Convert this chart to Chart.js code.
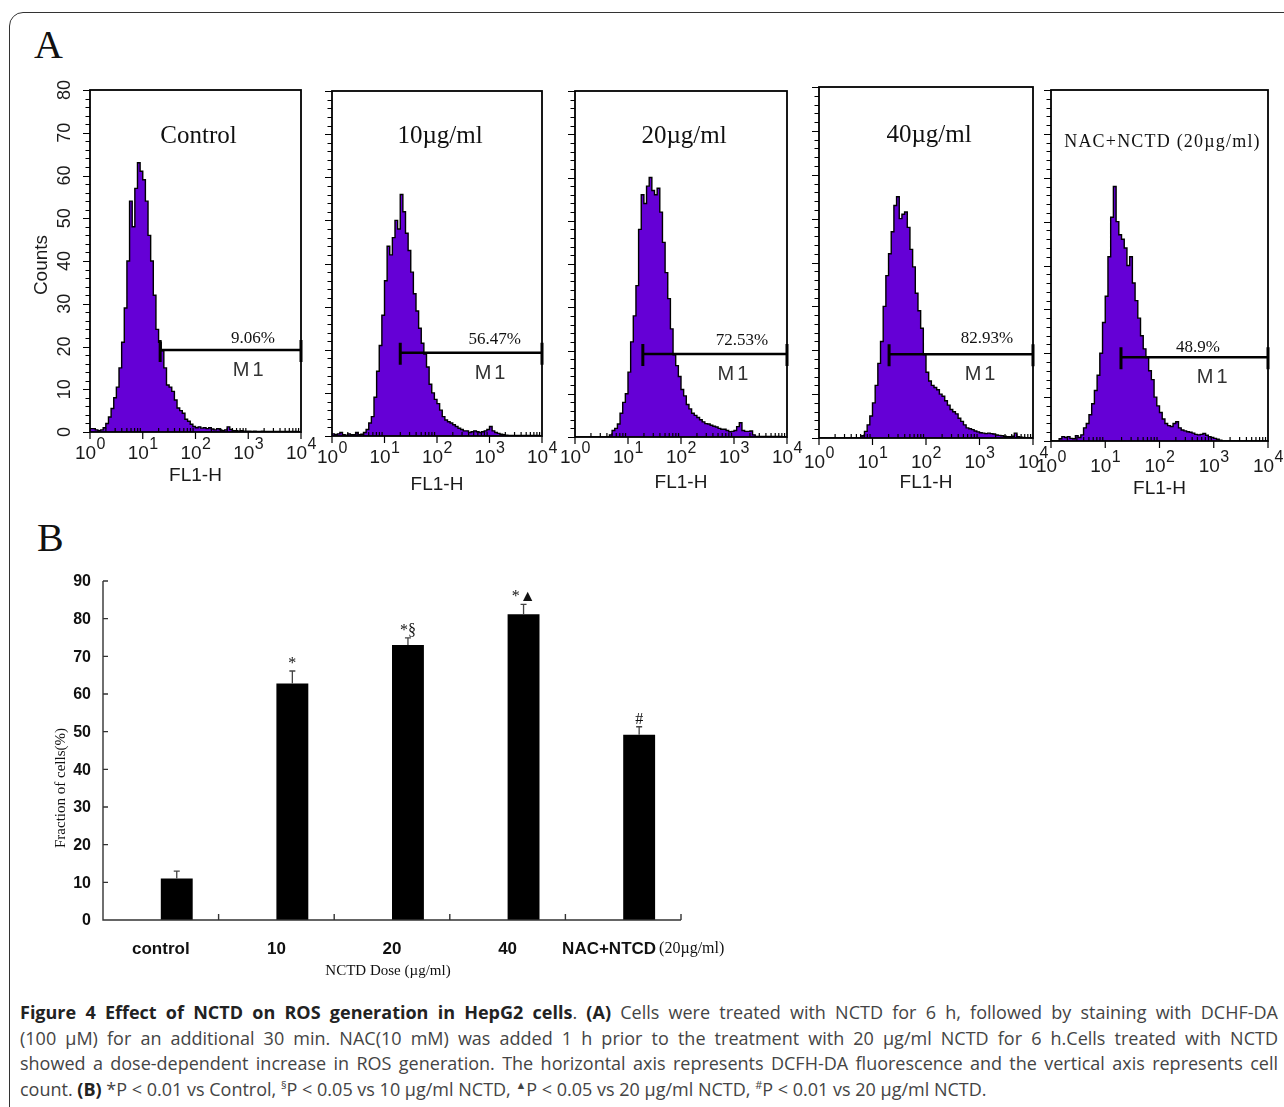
<!DOCTYPE html>
<html lang="en">
<head>
<meta charset="UTF-8">
<title>Figure 4 - NCTD and ROS generation</title>
<script src="https://cdn.jsdelivr.net/npm/chart.js"></script>
<style>
  body { margin: 0; background: #fff; }
  .page { position: relative; width: 1284px; height: 1107px; overflow: hidden; background: #fff; }
  .frame { position: absolute; left: 9px; top: 12px; width: 1400px; height: 1300px;
           border: 1.5px solid #333; border-radius: 14px; }
  canvas { position: absolute; }
  .letter { position: absolute; font-family: "Liberation Serif", serif; font-size: 40px; line-height: 1; color: #111; }
  .caption { position: absolute; left: 20px; top: 1000px; width: 1258px;
             font-family: "Open Sans", sans-serif; font-size: 18px; line-height: 25.7px; color: #444; }
  .caption div { text-align: justify; text-align-last: justify; }
  .caption div.last { text-align-last: left; }
  .caption b { color: #222; }
  .caption sup { font-size: 11px; line-height: 0; }
</style>
</head>
<body>
<div class="page">
  <div class="frame"></div>
  <div class="letter" style="left:34px; top:25px;">A</div>
  <div class="letter" style="left:37px; top:518px;">B</div>

  <canvas id="h0"></canvas>
  <canvas id="h1"></canvas>
  <canvas id="h2"></canvas>
  <canvas id="h3"></canvas>
  <canvas id="h4"></canvas>
  <canvas id="barB" width="800" height="440" style="left:0; top:560px;"></canvas>

  <div class="caption">
    <div><b>Figure 4 Effect of NCTD on ROS generation in HepG2 cells</b>. <b>(A)</b> Cells were treated with NCTD for 6 h, followed by staining with DCHF-DA</div>
    <div>(100 μM) for an additional 30 min. NAC(10 mM) was added 1 h prior to the treatment with 20 μg/ml NCTD for 6 h.Cells treated with NCTD</div>
    <div>showed a dose-dependent increase in ROS generation. The horizontal axis represents DCFH-DA fluorescence and the vertical axis represents cell</div>
    <div class="last">count. <b>(B)</b> *P &lt; 0.01 vs Control, <sup>§</sup>P &lt; 0.05 vs 10 μg/ml NCTD, <sup>▲</sup>P &lt; 0.05 vs 20 μg/ml NCTD, <sup>#</sup>P &lt; 0.01 vs 20 μg/ml NCTD.</div>
  </div>
</div>

<script>
// ---- data: panel A (flow cytometry histograms) ----
// channel = start of each bin, in log10(FL1-H)
const CHANNELS = [
  0.00, 0.05, 0.10, 0.15, 0.20, 0.25, 0.30, 0.35, 0.40, 0.45,
  0.50, 0.55, 0.60, 0.65, 0.70, 0.75, 0.80, 0.85, 0.90, 0.95,
  1.00, 1.05, 1.10, 1.15, 1.20, 1.25, 1.30, 1.35, 1.40, 1.45,
  1.50, 1.55, 1.60, 1.65, 1.70, 1.75, 1.80, 1.85, 1.90, 1.95,
  2.00, 2.05, 2.10, 2.15, 2.20, 2.25, 2.30, 2.35, 2.40, 2.45,
  2.50, 2.55, 2.60, 2.65, 2.70, 2.75, 2.80, 2.85, 2.90, 2.95,
  3.00, 3.05, 3.10, 3.15, 3.20, 3.25, 3.30, 3.35, 3.40, 3.45,
  3.50, 3.55, 3.60, 3.65, 3.70, 3.75, 3.80, 3.85, 3.90, 3.95
];
const COUNTS_CONTROL = [
  0.8, 0.8, 0.5, 0.3, 0.5, 1, 2, 3.5, 5.5, 8,
  10.5, 15, 21, 29, 40, 54, 48, 57, 63, 61,
  59, 54, 46, 40, 32, 24, 21, 19, 15, 11,
  10.5, 9.5, 7.5, 5.6, 5, 4.4, 3, 2.5, 1.8, 1.3,
  1.0, 1.2, 0.9, 1.0, 0.8, 1.0, 0.7, 0.5, 0.8, 0.5,
  0.3, 0.5, 1.2, 0.6, 0.3, 0.3, 0.2, 0.3, 0.2, 0.2,
  0.2, 0.1, 0.2, 0.1, 0.1, 0.2, 0.1, 0.1, 0.1, 0.1,
  0.1, 0.1, 0.1, 0.1, 0.1, 0.1, 0.1, 0.1, 0.1, 0
];
const COUNTS_10 = [
  0.5, 0.3, 0.5, 0.8, 0.3, 0.2, 0.5, 0.3, 0.3, 0.8,
  0.3, 0.4, 0.8, 1.5, 3, 4.5, 9, 15, 21, 28,
  36, 44, 42, 46, 50, 48, 56, 52, 47, 43,
  38, 33, 29, 25, 21.5, 19, 16, 12, 10, 8.5,
  7.5, 6, 4.5, 3.7, 3.3, 3, 2.6, 2.2, 1.8, 1.5,
  1.2, 1.2, 0.8, 1.0, 1.2, 1.0, 0.8, 1.0, 1.2, 1.5,
  2.2, 1.2, 0.8, 0.6, 0.4, 0.3, 0.2, 0.1, 0.1, 0.1,
  0.1, 0.1, 0.1, 0.1, 0.1, 0.1, 0.1, 0.1, 0.1, 0
];
const COUNTS_20 = [
  0, 0, 0, 0, 0, 0, 0, 0, 0, 0,
  0, 0, 0, 0.5, 1.5, 2, 3, 5.5, 8, 10,
  15, 22, 28, 35, 48, 56, 54, 58, 60, 57,
  56, 57.5, 52, 45, 38, 32, 25, 19, 16.5, 14,
  11, 9.5, 7.5, 6.5, 5.5, 5, 4.5, 4, 3.5, 3.1,
  3, 2.7, 2.5, 2.3, 2, 1.8, 1.8, 1.5, 1.2, 1.3,
  1.5, 2.4, 3.3, 1.5, 1.3, 1.3, 1.4, 0.5, 0.1, 0.1,
  0.1, 0.1, 0.1, 0.1, 0.1, 0.1, 0.1, 0.1, 0, 0
];
const COUNTS_40 = [
  0, 0, 0, 0, 0, 0, 0, 0, 0, 0,
  0, 0, 0, 0, 0, 0, 0.5, 1.5, 3, 5,
  8, 12, 17, 22, 30, 37, 42, 47, 53, 55,
  50, 51, 51.5, 48, 43, 39, 33, 29, 25, 19,
  15, 13, 12, 11.5, 11, 10, 9.5, 8.5, 7.5, 6.5,
  6, 5.5, 4.5, 3.8, 3, 2.3, 2.1, 1.9, 1.6, 1.4,
  1.2, 1.1, 1.0, 1.1, 1.0, 0.9, 0.7, 0.6, 0.5, 0.4,
  0.3, 0.3, 0.4, 1.1, 0.3, 0.2, 0.1, 0, 0, 0
];
const COUNTS_NAC = [
  0, 0, 0, 0.5, 1, 0.8, 1, 0.6, 0.5, 1.2,
  0.8, 1.4, 3, 4, 6, 8.5, 11.5, 15, 20, 27,
  33, 42, 51, 58, 50, 47, 46, 44, 40, 42,
  36, 32, 28, 24, 21, 19, 16, 14, 10, 8,
  6.5, 5, 4, 3.5, 3.3, 4, 4.4, 3, 2.5, 2.3,
  2.1, 2, 1.8, 1.5, 1.4, 1.5, 1.7, 1.3, 1, 0.8,
  0.6, 0.4, 0.2, 0, 0, 0, 0, 0, 0, 0,
  0, 0, 0, 0, 0, 0, 0, 0, 0, 0
];
const PANEL_TITLES = ['Control', '10µg/ml', '20µg/ml', '40µg/ml', 'NAC+NCTD (20µg/ml)'];
const M1_PERCENT = ['9.06%', '56.47%', '72.53%', '82.93%', '48.9%'];
const GATE_START = [1.33, 1.30, 1.28, 1.31, 1.29];   // log10 FL1-H
const GATE_LEVEL = [19.2, 19.3, 19.2, 19.1, 19.1];   // counts
const COUNT_TICKS = [0, 10, 20, 30, 40, 50, 60, 70, 80];
const DECADES = [0, 1, 2, 3, 4];

// ---- data: panel B (bar chart) ----
const DOSE_LABELS = ['control', '10', '20', '40', 'NAC+NTCD'];
const FRACTION_MEAN = [11.0, 62.8, 73.0, 81.2, 49.2];
const FRACTION_SD = [2.0, 3.3, 1.9, 2.6, 2.1];
const SIG_MARKS = ['', '*', '*§', '*▲', '#'];
const SPACER = [null, null, null, null, null];
const FRACTION_TICKS = [0, 10, 20, 30, 40, 50, 60, 70, 80, 90];

// ---- layout for panel A ----
const PURPLE = '#6500d6';
const SANS = '"Liberation Sans", Arial, sans-serif';
const SERIF = '"Liberation Serif", "Times New Roman", serif';
const PAD = { left: 80, top: 75, right: 22, bottom: 75 };
const PANELS = [
  { box: [90, 90, 301, 432],  counts: COUNTS_CONTROL, yLabels: true,  titleFont: '25px', titleY: 53, pctX: 3.09, pctDy: -7,  m1X: 3.00, powDy: 27, flDy: 49 },
  { box: [332, 91, 542, 436], counts: COUNTS_10,      yLabels: false, titleFont: '25px', titleY: 52, pctX: 3.10, pctDy: -9,  m1X: 3.01, powDy: 27, flDy: 54 },
  { box: [575, 91, 787, 437], counts: COUNTS_20,      yLabels: false, titleFont: '25px', titleY: 52, pctX: 3.15, pctDy: -9,  m1X: 2.98, powDy: 26, flDy: 51 },
  { box: [819, 87, 1033, 438], counts: COUNTS_40,     yLabels: false, titleFont: '25px', titleY: 55, pctX: 3.14, pctDy: -11, m1X: 3.01, powDy: 30, flDy: 50 },
  { box: [1051, 90, 1268, 441], counts: COUNTS_NAC,   yLabels: false, titleFont: '18px', titleY: 57, pctX: 2.71, pctDy: -5,  m1X: 2.97, powDy: 31, flDy: 53 }
];

function drawPow(ctx, cx, baseY, exp) {
  ctx.font = '19px ' + SANS;
  const w1 = ctx.measureText('10').width;
  ctx.font = '16px ' + SANS;
  const w2 = ctx.measureText(exp).width;
  const left = cx - (w1 + w2) / 2;
  ctx.textAlign = 'left';
  ctx.textBaseline = 'alphabetic';
  ctx.font = '19px ' + SANS;
  ctx.fillText('10', left, baseY);
  ctx.font = '16px ' + SANS;
  ctx.fillText(exp, left + w1 + 0.5, baseY - 10);
}

const histDecor = {
  id: 'histDecor',
  afterDraw(chart, args, o) {
    const { ctx, chartArea: a, scales: { x, y } } = chart;
    const p = o.panel;
    ctx.save();
    ctx.strokeStyle = '#000';
    ctx.fillStyle = '#111';

    // frame
    ctx.lineWidth = 1.8;
    ctx.strokeRect(a.left, a.top, a.right - a.left, a.bottom - a.top);

    // count axis ticks (outside, every 2 counts)
    ctx.lineWidth = 1.2;
    ctx.beginPath();
    for (let v = 0; v <= 80; v += 2) {
      const py = Math.round(y.getPixelForValue(v)) + 0.5;
      const len = v % 10 === 0 ? 7 : 4.5;
      ctx.moveTo(a.left, py);
      ctx.lineTo(a.left - len, py);
    }
    ctx.stroke();

    // log axis ticks: decades down, minors up
    ctx.beginPath();
    DECADES.forEach(d => {
      const px = x.getPixelForValue(d);
      ctx.moveTo(px, a.bottom);
      ctx.lineTo(px, a.bottom + 7);
      if (d < 4) {
        for (let m = 2; m <= 9; m++) {
          const mx = x.getPixelForValue(d + Math.log10(m));
          ctx.moveTo(mx, a.bottom);
          ctx.lineTo(mx, a.bottom - 4);
        }
      }
    });
    ctx.stroke();

    // decade labels
    ctx.fillStyle = '#1a1a1a';
    DECADES.forEach(d => drawPow(ctx, x.getPixelForValue(d), a.bottom + p.powDy, String(d)));
    ctx.font = '19px ' + SANS;
    ctx.textAlign = 'center';
    ctx.fillText('FL1-H', (a.left + a.right) / 2, a.bottom + p.flDy);

    // count labels (first panel only)
    if (p.yLabels) {
      COUNT_TICKS.forEach(v => {
        ctx.save();
        ctx.translate(a.left - 25, y.getPixelForValue(v));
        ctx.rotate(-Math.PI / 2);
        ctx.font = '18px ' + SANS;
        ctx.textAlign = 'center';
        ctx.textBaseline = 'middle';
        ctx.fillText(String(v), 0, 0);
        ctx.restore();
      });
      ctx.save();
      ctx.translate(a.left - 48, a.top + 175);
      ctx.rotate(-Math.PI / 2);
      ctx.font = '19px ' + SANS;
      ctx.textAlign = 'center';
      ctx.textBaseline = 'middle';
      ctx.fillText('Counts', 0, 0);
      ctx.restore();
    }

    // title
    ctx.fillStyle = '#111';
    ctx.font = p.titleFont + ' ' + SERIF;
    ctx.textAlign = 'center';
    ctx.textBaseline = 'alphabetic';
    if (p.idx === 4) ctx.letterSpacing = '1.2px';
    ctx.fillText(PANEL_TITLES[p.idx], (a.left + a.right) / 2 + 3, a.top + p.titleY);
    ctx.letterSpacing = '0px';

    // M1 gate marker
    const gy = y.getPixelForValue(GATE_LEVEL[p.idx]);
    const gx = x.getPixelForValue(GATE_START[p.idx]);
    ctx.strokeStyle = '#000';
    ctx.lineWidth = 2.5;
    ctx.beginPath();
    ctx.moveTo(gx, gy);
    ctx.lineTo(a.right, gy);
    ctx.stroke();
    ctx.lineWidth = 3;
    ctx.beginPath();
    ctx.moveTo(gx, gy - 10); ctx.lineTo(gx, gy + 12);
    ctx.moveTo(a.right, gy - 10); ctx.lineTo(a.right, gy + 12);
    ctx.stroke();

    ctx.font = '17px ' + SERIF;
    ctx.fillStyle = '#111';
    ctx.fillText(M1_PERCENT[p.idx], x.getPixelForValue(p.pctX), gy + p.pctDy);
    ctx.font = '20px ' + SANS;
    ctx.fillStyle = '#333';
    ctx.letterSpacing = '3px';
    ctx.fillText('M1', x.getPixelForValue(p.m1X) + 1.5, gy + 26);
    ctx.letterSpacing = '0px';
    ctx.restore();
  }
};

PANELS.forEach((p, idx) => {
  p.idx = idx;
  const [l, t, r, b] = p.box;
  const cv = document.getElementById('h' + idx);
  cv.width = (r - l) + PAD.left + PAD.right;
  cv.height = (b - t) + PAD.top + PAD.bottom;
  cv.style.left = (l - PAD.left) + 'px';
  cv.style.top = (t - PAD.top) + 'px';
  const points = CHANNELS.map((c, i) => ({ x: c, y: p.counts[i] }));
  points.push({ x: 4, y: 0 });
  new Chart(cv, {
    type: 'line',
    data: {
      datasets: [{
        data: points,
        stepped: true,
        fill: 'origin',
        backgroundColor: PURPLE,
        borderColor: '#000',
        borderWidth: 1.4,
        pointRadius: 0
      }]
    },
    options: {
      responsive: false,
      animation: false,
      layout: { padding: PAD },
      scales: {
        x: { type: 'linear', min: 0, max: 4, display: false },
        y: { min: 0, max: 80, display: false }
      },
      plugins: { legend: { display: false }, tooltip: { enabled: false }, histDecor: { panel: p } }
    },
    plugins: [histDecor]
  });
});

// ---- panel B ----
const barDecor = {
  id: 'barDecor',
  afterDraw(chart) {
    const { ctx, chartArea: a, scales: { x, y } } = chart;
    ctx.save();
    ctx.strokeStyle = '#333';
    ctx.lineWidth = 1.4;
    ctx.beginPath();
    ctx.moveTo(a.left, a.top);
    ctx.lineTo(a.left, a.bottom);
    ctx.lineTo(a.right, a.bottom);
    // value ticks, pointing inward
    FRACTION_TICKS.forEach(v => {
      const py = y.getPixelForValue(v);
      ctx.moveTo(a.left, py);
      ctx.lineTo(a.left + 5, py);
    });
    // category boundary ticks, pointing up
    const band = (a.right - a.left) / DOSE_LABELS.length;
    for (let i = 1; i <= DOSE_LABELS.length; i++) {
      const bx = a.left + band * i;
      ctx.moveTo(bx, a.bottom);
      ctx.lineTo(bx, a.bottom - 6);
    }
    ctx.stroke();

    ctx.fillStyle = '#111';
    ctx.font = 'bold 16px ' + SANS;
    ctx.textAlign = 'right';
    ctx.textBaseline = 'middle';
    FRACTION_TICKS.forEach(v => ctx.fillText(String(v), a.left - 12, y.getPixelForValue(v) + 1));

    // error bars and significance marks
    const meta = chart.getDatasetMeta(1);
    meta.data.forEach((bar, i) => {
      const cx = bar.x;
      const top = y.getPixelForValue(FRACTION_MEAN[i]);
      const et = y.getPixelForValue(FRACTION_MEAN[i] + FRACTION_SD[i]);
      ctx.strokeStyle = '#444';
      ctx.lineWidth = 1.3;
      ctx.beginPath();
      ctx.moveTo(cx, top);
      ctx.lineTo(cx, et);
      ctx.moveTo(cx - 3, et);
      ctx.lineTo(cx + 3, et);
      ctx.stroke();
      if (SIG_MARKS[i]) {
        ctx.fillStyle = '#111';
        ctx.font = '16px ' + SERIF;
        ctx.textAlign = 'center';
        ctx.textBaseline = 'alphabetic';
        ctx.fillText(SIG_MARKS[i], cx, et - 3);
      }
    });

    // category labels
    ctx.fillStyle = '#111';
    ctx.textBaseline = 'alphabetic';
    DOSE_LABELS.forEach((lab, i) => {
      const cx = x.getPixelForValue(i);
      if (i < DOSE_LABELS.length - 1) {
        ctx.font = 'bold 17px ' + SANS;
        ctx.textAlign = 'center';
        ctx.fillText(lab, cx, a.bottom + 34);
      } else {
        ctx.font = 'bold 17px ' + SANS;
        const w1 = ctx.measureText(lab).width;
        ctx.font = '16px ' + SERIF;
        const w2 = ctx.measureText('(20µg/ml)').width;
        const left = cx + 20 - (w1 + w2 + 3) / 2;
        ctx.textAlign = 'left';
        ctx.font = 'bold 17px ' + SANS;
        ctx.fillText(lab, left, a.bottom + 34);
        ctx.font = '16px ' + SERIF;
        ctx.fillText('(20µg/ml)', left + w1 + 3, a.bottom + 33);
      }
    });

    // axis titles
    ctx.font = '15px ' + SERIF;
    ctx.textAlign = 'center';
    ctx.fillText('NCTD Dose (µg/ml)', a.left + 285, a.bottom + 55);
    ctx.save();
    ctx.translate(a.left - 42, a.top + 207);
    ctx.rotate(-Math.PI / 2);
    ctx.textBaseline = 'middle';
    ctx.fillText('Fraction of cells(%)', 0, 0);
    ctx.restore();
    ctx.restore();
  }
};

new Chart(document.getElementById('barB'), {
  type: 'bar',
  data: {
    labels: DOSE_LABELS,
    datasets: [
      { data: SPACER, backgroundColor: 'rgba(0,0,0,0)' },
      { data: FRACTION_MEAN, backgroundColor: '#000', borderWidth: 0 }
    ]
  },
  options: {
    responsive: false,
    animation: false,
    layout: { padding: { left: 103, top: 21, right: 119, bottom: 80 } },
    datasets: { bar: { categoryPercentage: 0.552, barPercentage: 1 } },
    scales: {
      x: { display: false },
      y: { display: false, min: 0, max: 90 }
    },
    plugins: { legend: { display: false }, tooltip: { enabled: false } }
  },
  plugins: [barDecor]
});
</script>
</body>
</html>
